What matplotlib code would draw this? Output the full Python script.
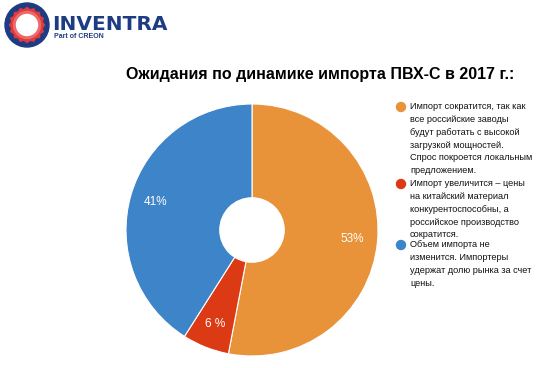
import matplotlib
matplotlib.use("Agg")
import matplotlib.pyplot as plt
from matplotlib.patches import Circle, Ellipse, Polygon
import numpy as np

plt.rcParams["font.family"] = ["Liberation Sans", "DejaVu Sans"]

# data
categories = [
    "Импорт сократится, так как\nвсе российские заводы\nбудут работать с высокой\nзагрузкой мощностей.\nСпрос покроется локальным\nпредложением.",
    "Импорт увеличится – цены\nна китайский материал\nконкурентоспособны, а\nроссийское производство\nсократится.",
    "Объем импорта не\nизменится. Импортеры\nудержат долю рынка за счет\nцены.",
]
shares = [53, 6, 41]
colors = ["#E8923A", "#DC3A14", "#3D84C8"]
title = "Ожидания по динамике импорта ПВХ-С в 2017 г.:"

W, H = 546, 368
fig = plt.figure(figsize=(W / 100, H / 100), dpi=100)
fig.patch.set_facecolor("white")


def px_axes(x0, y0, w, h):
    return fig.add_axes([x0 / W, 1 - (y0 + h) / H, w / W, h / H])


# pie
ax = px_axes(126, 104, 252, 252)
wedges, texts, autotexts = ax.pie(
    shares, colors=colors, startangle=90, counterclock=False,
    autopct=lambda p: f"{p:.0f} %" if p < 10 else f"{p:.0f}%", pctdistance=0.8,
    wedgeprops=dict(edgecolor="white", linewidth=0.8),
    textprops=dict(color="white", fontsize=8.5),
)
ax.add_patch(Circle((0, 0), 0.255, color="white", zorder=5))
ax.set_aspect("equal")
ax.set_xlim(-1, 1)
ax.set_ylim(-1, 1)
ax.axis("off")

# title
fig.text(320 / W, 1 - 74 / H, title, ha="center", va="center",
         fontsize=11.5, fontweight="bold", color="black")

# legend
leg_y = [107, 184, 245]
for cat, col, y in zip(categories, colors, leg_y):
    fig.text(410 / W, 1 - (y - 5) / H, cat, ha="left", va="top",
             fontsize=6.6, color="#111111", linespacing=1.55)
    fig.patches.append(Ellipse((401 / W, 1 - y / H), 9 / W, 9 / H,
                               transform=fig.transFigure, color=col))

# logo
lax = px_axes(0, 0, 200, 50)
lax.set_xlim(0, 200)
lax.set_ylim(50, 0)
lax.axis("off")
lax.add_patch(Circle((27, 25), 22, color="#1E3C84"))
t = np.linspace(0, 2 * np.pi, 33)
pts = []
for i, a in enumerate(t[:-1]):
    r = 17.5 if i % 2 == 0 else 15.5
    pts.append((27 + r * np.cos(a), 25 + r * np.sin(a)))
lax.add_patch(Polygon(pts, closed=True, color="#E23A3A"))
lax.add_patch(Circle((27, 25), 13.5, color="#EE6A6A"))
lax.add_patch(Circle((27, 25), 10.5, color="white"))
lax.text(52, 29.5, "INVENTRA", fontsize=14.5, fontweight="bold", color="#1E3C84",
         family="DejaVu Sans", ha="left", va="baseline")
lax.text(54, 37.5, "Part of CREON", fontsize=5, fontweight="bold", color="#1E3C84",
         ha="left", va="baseline")

fig.savefig("out.png", dpi=100, facecolor="white")
